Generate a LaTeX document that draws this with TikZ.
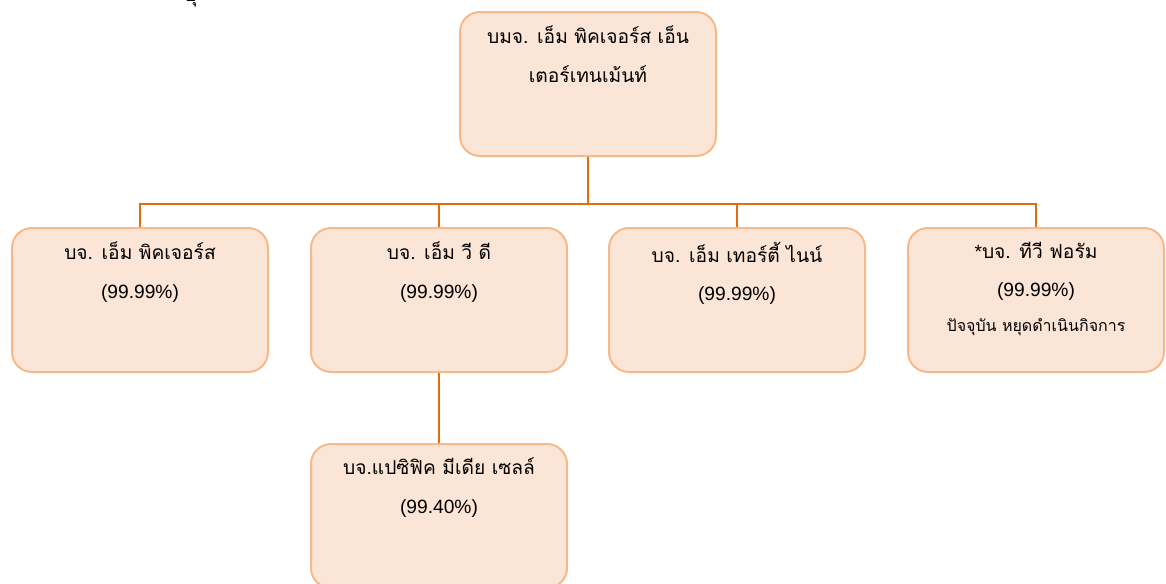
\documentclass[tikz,border=0pt]{standalone}
\usepackage{fontspec}
\setmainfont{Liberation Sans}
\newfontfamily\thaifont[Script=Thai]{Loma}
\definecolor{boxfill}{HTML}{FBE5D6}
\definecolor{boxline}{HTML}{F6BA8A}
\definecolor{linkline}{HTML}{E46C0A}
\tikzset{
  firm/.style={draw=boxline,fill=boxfill,line width=1.5pt,rounded corners=15pt,
    minimum width=192pt,minimum height=108pt,inner sep=0pt},
  firmtext/.style={anchor=north,align=center,inner sep=0pt,
    font=\fontsize{14.4}{29}\selectfont},
  link/.style={draw=linkline,line width=1.5pt}
}
\begin{document}
\begin{tikzpicture}[x=0.75pt,y=-0.75pt,font=\fontsize{14.4}{17}\selectfont]
\useasboundingbox (0,0) rectangle (1166,583);
% boxes
\node[firm] (top) at (588,84) {};
\node[firm] (b1) at (140,300) {};
\node[firm] (b2) at (439,300) {};
\node[firm] (b3) at (737,300) {};
\node[firm] (b4) at (1036,300) {};
\node[firm] (c1) at (439,516) {};
% texts
\node[firmtext] (ttop) at ([yshift=-11pt]top.north) {\thaifont บมจ. เอ็ม พิคเจอร์ส เอ็น\\\thaifont เตอร์เทนเม้นท์};
\node[firmtext] (tb1) at ([yshift=-11pt]b1.north) {\thaifont บจ. เอ็ม พิคเจอร์ส\\(99.99\%)};
\node[firmtext] (tb2) at ([yshift=-11pt]b2.north) {\thaifont บจ. เอ็ม วี ดี\\(99.99\%)};
\node[firmtext] (tb3) at ([yshift=-11pt]b3.north) {\thaifont บจ. เอ็ม เทอร์ตี้ ไนน์\\(99.99\%)};
\node[firmtext] (tb4) at ([yshift=-11pt]b4.north) {*{\thaifont บจ. ทีวี ฟอรัม}\\(99.99\%)\\[-3pt]{\thaifont\fontsize{12}{14}\selectfont ปัจจุบัน หยุดดำเนินกิจการ}};
\node[firmtext] (tc1) at ([yshift=-11pt]c1.north) {\thaifont บจ.แปซิฟิค มีเดีย เซลล์\\(99.40\%)};
% clipped mark at the top edge
\node[anchor=base,inner sep=0pt,font=\fontsize{16}{18}\selectfont] (strayu) at (191,1.5) {\thaifont ธุ};
% connectors
\coordinate (hub) at (588,204);
\draw[link] (top.south) -- (hub);
\foreach \k in {b1,b2,b3,b4}
  \draw[link] (hub) -| (\k.north);
\draw[link] (b2.south) -- (c1.north);
\end{tikzpicture}
\end{document}
